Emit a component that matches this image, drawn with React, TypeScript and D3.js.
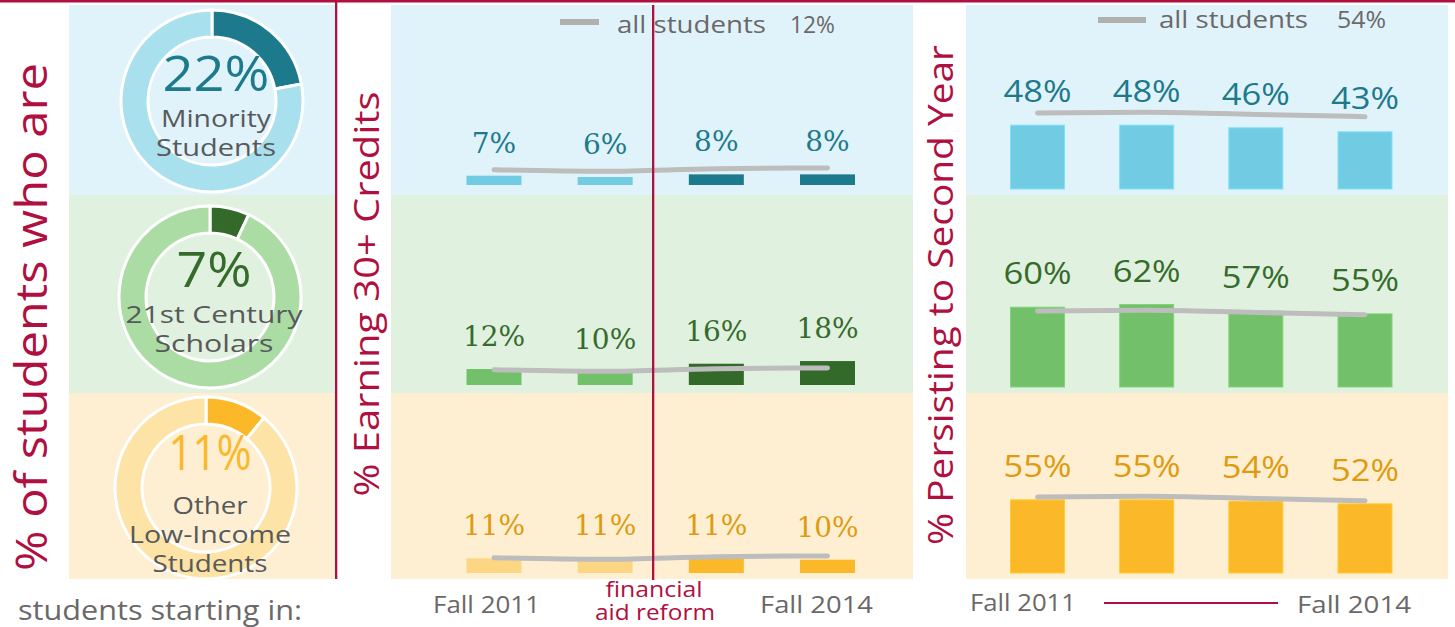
import React from "react";
import * as d3 from "d3";

const years = ["Fall 2011", "Fall 2012", "Fall 2013", "Fall 2014"];
const groupLines = [["Minority", "Students"], ["21st Century", "Scholars"], ["Other", "Low-Income", "Students"]];
const groupShare = [22, 7, 11];

const creditsMinority = [7, 6, 8, 8];
const creditsScholars = [12, 10, 16, 18];
const creditsLowIncome = [11, 11, 11, 10];
const creditsAllStudentsLine = [11.5, 10.3, 12.3, 12.8];
const creditsAllStudents = 12;

const persistMinority = [48, 48, 46, 43];
const persistScholars = [60, 62, 57, 55];
const persistLowIncome = [55, 55, 54, 52];
const persistAllStudentsLine = [57.2, 57.7, 56, 54.4];
const persistAllStudents = 54;

const creditsRows = [creditsMinority, creditsScholars, creditsLowIncome];
const persistRows = [persistMinority, persistScholars, persistLowIncome];

// styling / layout
const RED = "#b0103f";
const GRAY_TEXT = "#6b6869";
const GRAY_LINE = "#bdbdbd";
const SANS = "'Open Sans', sans-serif";
const SLAB = "'DejaVu Serif', serif";

const rowStyle = [
  { bg: "#e0f3fa", light: "#70cbe3", dark: "#1d7a8c", label: "#1d7a8c", ring: "#a9e0ee", right: "#70cbe3", shareColor: "#1d7a8c" },
  { bg: "#e1f1df", light: "#72c06a", dark: "#336a2a", label: "#356b2b", ring: "#aadca4", right: "#72c06a", shareColor: "#356b2b" },
  { bg: "#feefd2", light: "#fdd684", dark: "#fbb829", label: "#de9b10", ring: "#fde3a6", right: "#fbb829", shareColor: "#fbb829" },
];
const rowTop = [5, 195, 393];
const rowBottom = [195, 393, 579];
const midBase = [185, 385, 573];
const rightBase = [189, 387, 573];
const donutCy = [101, 297, 488];
const donutCx = [212, 210, 206];
const donutNumW = [107, 75, 83];
const donutLineW = [[110, 120], [177, 119], [75, 162, 115]];

const PX_PER_PCT = 1.33;

const xMid = d3.scalePoint<string>().domain(years).range([494, 827.5]);
const xRight = d3.scalePoint<string>().domain(years).range([1037.5, 1365]);
const MID_W = 55;
const RIGHT_W = 54;

function yScale(base: number) {
  return d3.scaleLinear().domain([0, 100]).range([base, base - 100 * PX_PER_PCT]);
}

const arcGen = d3.arc<any>().innerRadius(64).outerRadius(91);

function T(props: any) {
  const { w, children, ...rest } = props;
  const extra = w ? { textLength: w, lengthAdjust: "spacingAndGlyphs" } : {};
  return (
    <text fontFamily={SANS} {...extra} {...rest}>
      {children}
    </text>
  );
}

export default function App() {
  const lineGen = (x: d3.ScalePoint<string>, y: d3.ScaleLinear<number, number>) =>
    d3
      .line<number>()
      .x((_, i) => x(years[i]) as number)
      .y((d) => y(d))
      .curve(d3.curveMonotoneX);

  return (
    <svg width={1455} height={627} style={{ position: "absolute", left: 0, top: 0, background: "#fff" }}>
      {/* top red rule */}
      <rect x={0} y={0} width={1455} height={2.5} fill={RED} />

      {/* left vertical title */}
      <T transform={`translate(47,317) rotate(-90)`} textAnchor="middle" fontSize={44} fill={RED} w={508}>
        % of students who are
      </T>

      {/* backgrounds */}
      {rowStyle.map((s, r) => (
        <g key={"bg" + r}>
          <rect x={69} y={rowTop[r]} width={266} height={rowBottom[r] - rowTop[r]} fill={s.bg} />
          <rect x={391} y={rowTop[r]} width={522} height={rowBottom[r] - rowTop[r]} fill={s.bg} />
          <rect x={966} y={rowTop[r]} width={482} height={rowBottom[r] - rowTop[r]} fill={s.bg} />
        </g>
      ))}

      {/* donuts */}
      {groupShare.map((v, r) => {
        const s = rowStyle[r];
        const pie = d3.pie<number>().sort(null)([v, 100 - v]);
        const cx = donutCx[r];
        const cy = donutCy[r];
        const lines = groupLines[r];
        const numY = lines.length === 3 ? cy - 18 : cy - 10;
        return (
          <g key={"donut" + r}>
            <g transform={`translate(${cx},${cy})`}>
              {pie.map((p, i) => (
                <path key={i} d={arcGen(p) as string} fill={i === 0 ? s.dark : s.ring} stroke="#fff" strokeWidth={3} />
              ))}
            </g>
            <T x={cx + 4} y={numY} textAnchor="middle" fontSize={50} fill={s.shareColor} w={donutNumW[r]}>
              {v}%
            </T>
            {lines.map((t, i) => (
              <T key={i} x={cx + 4} y={cy + 26 + i * 29} textAnchor="middle" fontSize={24} fill="#58595b" w={donutLineW[r][i]}>
                {t}
              </T>
            ))}
          </g>
        );
      })}

      {/* left panel divider */}
      <rect x={335} y={0} width={2.3} height={579} fill={RED} />

      {/* middle vertical title */}
      <T transform={`translate(379,294) rotate(-90)`} textAnchor="middle" fontSize={35} fill={RED} w={405}>
        % Earning 30+ Credits
      </T>

      {/* middle bars */}
      {creditsRows.map((vals, r) => {
        const s = rowStyle[r];
        const y = yScale(midBase[r]);
        return (
          <g key={"mid" + r}>
            {vals.map((v, i) => (
              <rect
                key={i}
                x={(xMid(years[i]) as number) - MID_W / 2}
                y={y(v)}
                width={MID_W}
                height={y(0) - y(v)}
                fill={i < 2 ? s.light : s.dark}
              />
            ))}
            <path d={lineGen(xMid, y)(creditsAllStudentsLine) as string} fill="none" stroke={GRAY_LINE} strokeWidth={5} strokeLinecap="round" />
            {vals.map((v, i) => (
              <text key={"t" + i} x={xMid(years[i]) as number} y={y(v) - 23} textAnchor="middle" fontFamily={SLAB} fontSize={28} fill={s.label}>
                {v}%
              </text>
            ))}
          </g>
        );
      })}

      {/* middle legend */}
      <line x1={560} x2={599} y1={22} y2={22} stroke="#b2afaf" strokeWidth={6} />
      <T x={617} y={33} fontSize={23} fill={GRAY_TEXT} w={149}>
        all students
      </T>
      <T x={835} y={33} textAnchor="end" fontSize={23} fill={GRAY_TEXT} w={45}>
        {creditsAllStudents}%
      </T>

      {/* financial aid reform marker */}
      <rect x={652} y={5} width={2.3} height={575} fill={RED} />
      <T x={654} y={597} textAnchor="middle" fontSize={21} fill={RED} w={97}>
        financial
      </T>
      <T x={655} y={620} textAnchor="middle" fontSize={21} fill={RED} w={120}>
        aid reform
      </T>
      <T x={433} y={613} fontSize={24} fill={GRAY_TEXT} w={107}>
        {years[0]}
      </T>
      <T x={873} y={613} textAnchor="end" fontSize={24} fill={GRAY_TEXT} w={113}>
        {years[3]}
      </T>

      {/* right vertical title */}
      <T transform={`translate(953,295) rotate(-90)`} textAnchor="middle" fontSize={35} fill={RED} w={500}>
        % Persisting to Second Year
      </T>

      {/* right bars */}
      {persistRows.map((vals, r) => {
        const s = rowStyle[r];
        const y = yScale(rightBase[r]);
        return (
          <g key={"right" + r}>
            {vals.map((v, i) => (
              <rect
                key={i}
                x={(xRight(years[i]) as number) - RIGHT_W / 2}
                y={y(v)}
                width={RIGHT_W}
                height={y(0) - y(v)}
                fill={s.right}
                stroke={d3.color(s.right)!.brighter(0.3).toString()}
                strokeWidth={1}
              />
            ))}
            <path d={lineGen(xRight, y)(persistAllStudentsLine) as string} fill="none" stroke={GRAY_LINE} strokeWidth={5} strokeLinecap="round" />
            {vals.map((v, i) => (
              <T key={"t" + i} x={xRight(years[i]) as number} y={y(v) - 23} textAnchor="middle" fontSize={31} fill={s.label} w={68}>
                {v}%
              </T>
            ))}
          </g>
        );
      })}

      {/* right legend */}
      <line x1={1098} x2={1146} y1={20} y2={20} stroke="#b2afaf" strokeWidth={6} />
      <T x={1159} y={28} fontSize={23} fill={GRAY_TEXT} w={149}>
        all students
      </T>
      <T x={1386} y={28} textAnchor="end" fontSize={23} fill={GRAY_TEXT} w={49}>
        {persistAllStudents}%
      </T>

      {/* right bottom axis */}
      <T x={970} y={611} fontSize={24} fill={GRAY_TEXT} w={106}>
        {years[0]}
      </T>
      <line x1={1104} x2={1278} y1={603} y2={603} stroke={RED} strokeWidth={2} />
      <T x={1411} y={613} textAnchor="end" fontSize={24} fill={GRAY_TEXT} w={114}>
        {years[3]}
      </T>

      {/* bottom-left caption */}
      <T x={18} y={620} fontSize={27} fill={GRAY_TEXT} w={284}>
        students starting in:
      </T>
    </svg>
  );
}
